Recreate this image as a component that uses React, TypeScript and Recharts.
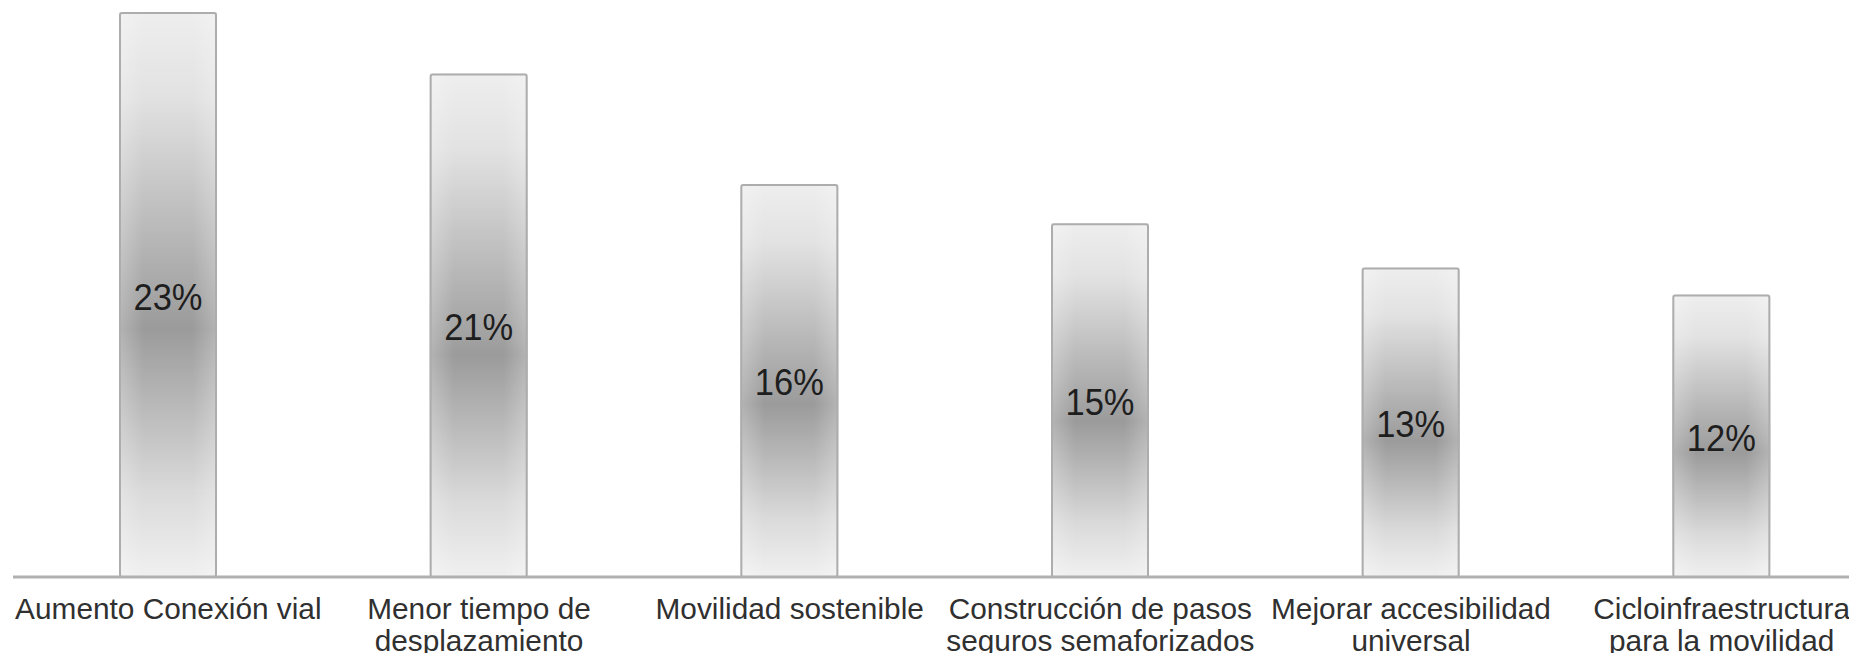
import { BarChart, Bar, XAxis, YAxis, LabelList } from "recharts"

const categories = [
  "Aumento Conexión vial",
  "Menor tiempo de\ndesplazamiento",
  "Movilidad sostenible",
  "Construcción de pasos\nseguros semaforizados",
  "Mejorar accesibilidad\nuniversal",
  "Cicloinfraestructura\npara la movilidad",
]
const shares = [23, 20.5, 16, 14.4, 12.6, 11.5]
const shareLabels = ["23%", "21%", "16%", "15%", "13%", "12%"]

const data = categories.map((name, i) => ({ name, value: shares[i], label: shareLabels[i] }))

const font = "'Liberation Sans', Arial, sans-serif"

function CategoryTick({ x, y, payload }: any) {
  const lines = String(payload.value).split("\n")
  return (
    <text x={x} y={y} textAnchor="middle" fontSize={29.8} fill="#303030" fontFamily={font}>
      {lines.map((l, i) => (
        <tspan key={i} x={x} y={y + 42 + i * 32}>
          {l}
        </tspan>
      ))}
    </text>
  )
}

function GradientBar({ x, y, width, height }: any) {
  if (!height) return null
  return (
    <g>
      <rect x={x} y={y} width={width} height={height} fill="url(#barV)" />
      <rect x={x} y={y} width={width} height={height} fill="url(#barH)" />
      <rect
        x={x + 1}
        y={y + 1}
        width={width - 2}
        height={height - 1}
        rx={2}
        fill="none"
        stroke="#adadad"
        strokeWidth={2}
      />
    </g>
  )
}

function PercentLabel({ x, y, width, height, value }: any) {
  const cx = x + width / 2
  const cy = y + height / 2 + 15
  return (
    <g transform={`translate(${cx},${cy}) scale(1,1.05)`}>
      <text textAnchor="middle" fontSize={34.5} fill="#1e1e1e" fontFamily={font}>
        {value}
      </text>
    </g>
  )
}

export default function App() {
  return (
    <div style={{ margin: -8, width: 1857, height: 661, overflow: "hidden", background: "#fff" }}>
      <BarChart width={1890} height={661} data={data} margin={{ top: 12, right: 13, bottom: 0, left: 13 }}>
        <defs>
          <linearGradient id="barV" x1="0" y1="0" x2="0" y2="1">
            <stop offset="0%" stopColor="#eeeeee" />
            <stop offset="15%" stopColor="#e2e2e2" />
            <stop offset="56%" stopColor="#9b9b9b" />
            <stop offset="85%" stopColor="#dadada" />
            <stop offset="100%" stopColor="#f0f0f0" />
          </linearGradient>
          <linearGradient id="barH" x1="0" y1="0" x2="1" y2="0">
            <stop offset="0%" stopColor="#ffffff" stopOpacity={0.25} />
            <stop offset="25%" stopColor="#ffffff" stopOpacity={0} />
            <stop offset="75%" stopColor="#ffffff" stopOpacity={0} />
            <stop offset="100%" stopColor="#ffffff" stopOpacity={0.25} />
          </linearGradient>
        </defs>
        <XAxis
          dataKey="name"
          interval={0}
          height={84}
          tickLine={false}
          tickSize={0}
          tickMargin={0}
          axisLine={{ stroke: "#b0b0b0", strokeWidth: 3 }}
          tick={<CategoryTick />}
        />
        <YAxis hide domain={[0, 23]} />
        <Bar dataKey="value" barSize={98} shape={<GradientBar />} isAnimationActive={false}>
          <LabelList dataKey="label" content={<PercentLabel />} />
        </Bar>
      </BarChart>
    </div>
  )
}
